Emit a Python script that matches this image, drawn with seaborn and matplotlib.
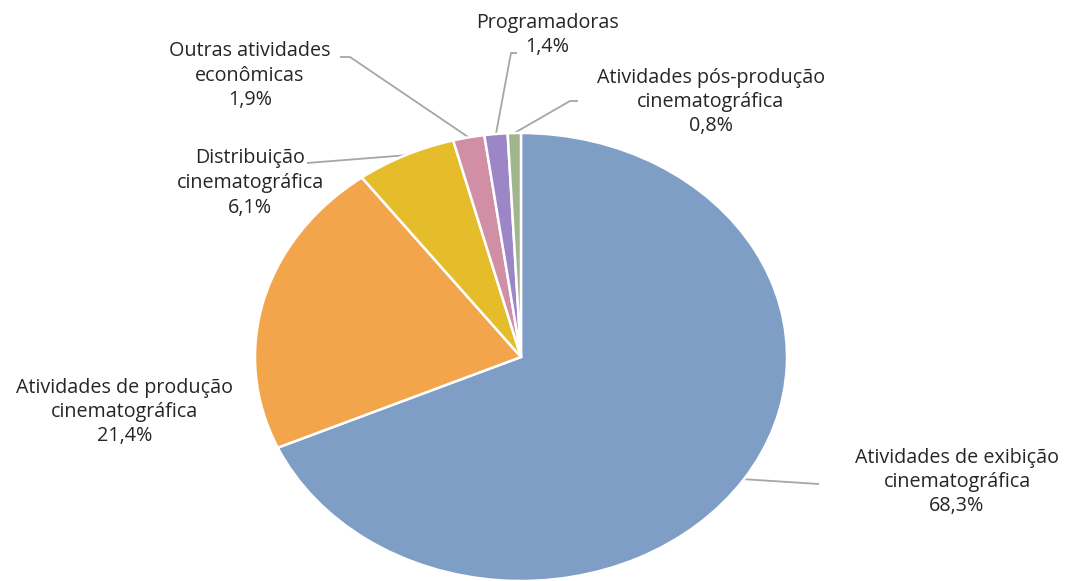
import matplotlib
matplotlib.use("Agg")
import matplotlib.pyplot as plt
import seaborn as sns
import numpy as np

# ---- data ----
categories = [
    "Atividades de exibição\ncinematográfica",
    "Atividades de produção\ncinematográfica",
    "Distribuição\ncinematográfica",
    "Outras atividades\neconômicas",
    "Programadoras",
    "Atividades pós-produção\ncinematográfica",
]
shares = [68.3, 21.4, 6.1, 1.9, 1.4, 0.8]
colors_hex = ["#7F9EC5", "#F2A54A", "#E5BD2B", "#D18FA5", "#9D86C5", "#A2B68E"]

# ---- layout (pixels) ----
W, H = 1065, 581
CX, CY, RX, RY = 521, 357, 266, 224  # pie centre and radii in pixels (y from top)
# label block centres (pixels) and leader elbow points (pixels)
label_pos = [(957, 482), (125, 412), (250, 183), (250, 76), (547, 35), (711, 102)]
leader_pts = [
    [(819, 484)],
    None,
    [(307, 163)],
    [(340, 57), (350, 57)],
    [(517, 53), (511, 53)],
    [(578, 101), (570, 101)],
]

sns.set_theme(style="white")
plt.rcParams["font.family"] = ["Open Sans", "DejaVu Sans"]

fig = plt.figure(figsize=(W / 100, H / 100), dpi=100)
ax = fig.add_axes([0, 0, 1, 1])
palette = sns.color_palette(colors_hex)

wedges, _ = ax.pie(
    shares,
    colors=palette,
    startangle=90,
    counterclock=False,
    wedgeprops=dict(edgecolor="white", linewidth=1.8),
)
ax.set_aspect("auto")
xmin, xmax = -CX / RX, (W - CX) / RX
ymin, ymax = -(H - CY) / RY, CY / RY
ax.set_xlim(xmin, xmax)
ax.set_ylim(ymin, ymax)
ax.axis("off")


def px(x, y):
    return (xmin + x / W * (xmax - xmin), ymax - y / H * (ymax - ymin))


text_color = "#262626"
for i, (w, cat, val) in enumerate(zip(wedges, categories, shares)):
    lx, ly = label_pos[i]
    tx, ty = px(lx, ly)
    ax.text(tx, ty, f"{cat}\n{val:.1f}%".replace(".", ","), ha="center", va="center",
            ma="center", fontsize=14.2, color=text_color, linespacing=1.3,
            transform=ax.transData)
    if leader_pts[i] is not None:
        mid = np.deg2rad((w.theta1 + w.theta2) / 2)
        ex, ey = np.cos(mid), np.sin(mid)
        pts = [px(*p) for p in leader_pts[i]] + [(ex, ey)]
        xs, ys = zip(*pts)
        ax.plot(xs, ys, color="#A6A6A6", linewidth=1.3, solid_capstyle="butt", zorder=0.5)

fig.savefig("out.png", dpi=100)
